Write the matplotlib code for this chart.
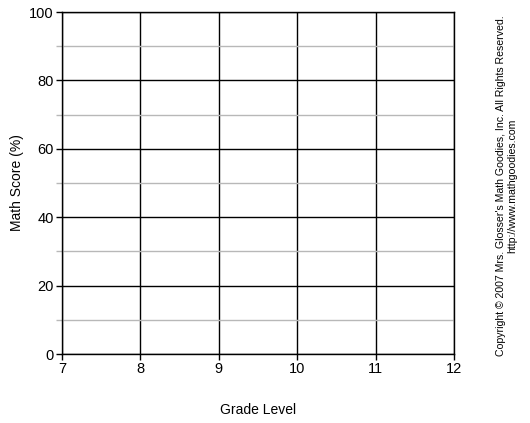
import matplotlib.pyplot as plt
import numpy as np

plt.rcParams['font.family'] = ['Liberation Sans', 'DejaVu Sans']

# axis ranges and ticks
x_ticks = [7, 8, 9, 10, 11, 12]
y_major = [0, 20, 40, 60, 80, 100]
y_minor = [10, 30, 50, 70, 90]
x_label = 'Grade Level'
y_label = 'Math Score (%)'
copyright_text = "Copyright \u00a9 2007 Mrs. Glosser's Math Goodies, Inc. All Rights Reserved.\nhttp://www.mathgoodies.com"

fig = plt.figure(figsize=(5.30, 4.23), dpi=100)
ax = fig.add_axes([62 / 530, 1 - 354 / 423, 392 / 530, 342 / 423])

ax.set_xlim(x_ticks[0], x_ticks[-1])
ax.set_ylim(y_major[0], y_major[-1])
ax.set_xticks(x_ticks)
ax.set_yticks(y_major)
ax.set_yticks(y_minor, minor=True)

# grid: black major, grey minor
ax.grid(True, which='major', color='black', linewidth=1.0)
ax.grid(True, which='minor', axis='y', color='#b8b8b8', linewidth=1.0)
ax.set_axisbelow(True)

for s in ax.spines.values():
    s.set_color('black')
    s.set_linewidth(1.0)

ax.tick_params(which='major', direction='out', length=4, width=1, color='black',
               labelsize=10.5, pad=2)
ax.tick_params(which='minor', direction='out', length=4, width=1, color='#b8b8b8')

ax.set_xlabel(x_label, fontsize=10)
ax.set_ylabel(y_label, fontsize=10)
ax.xaxis.set_label_coords(0.5, -0.143)
ax.yaxis.set_label_coords(-0.097, 0.5)

fig.text(507 / 530, 1 - 186 / 423, copyright_text, rotation=90, fontsize=7.6,
         ha='center', va='center', multialignment='center', linespacing=1.15)

fig.savefig('out.png', dpi=100)
